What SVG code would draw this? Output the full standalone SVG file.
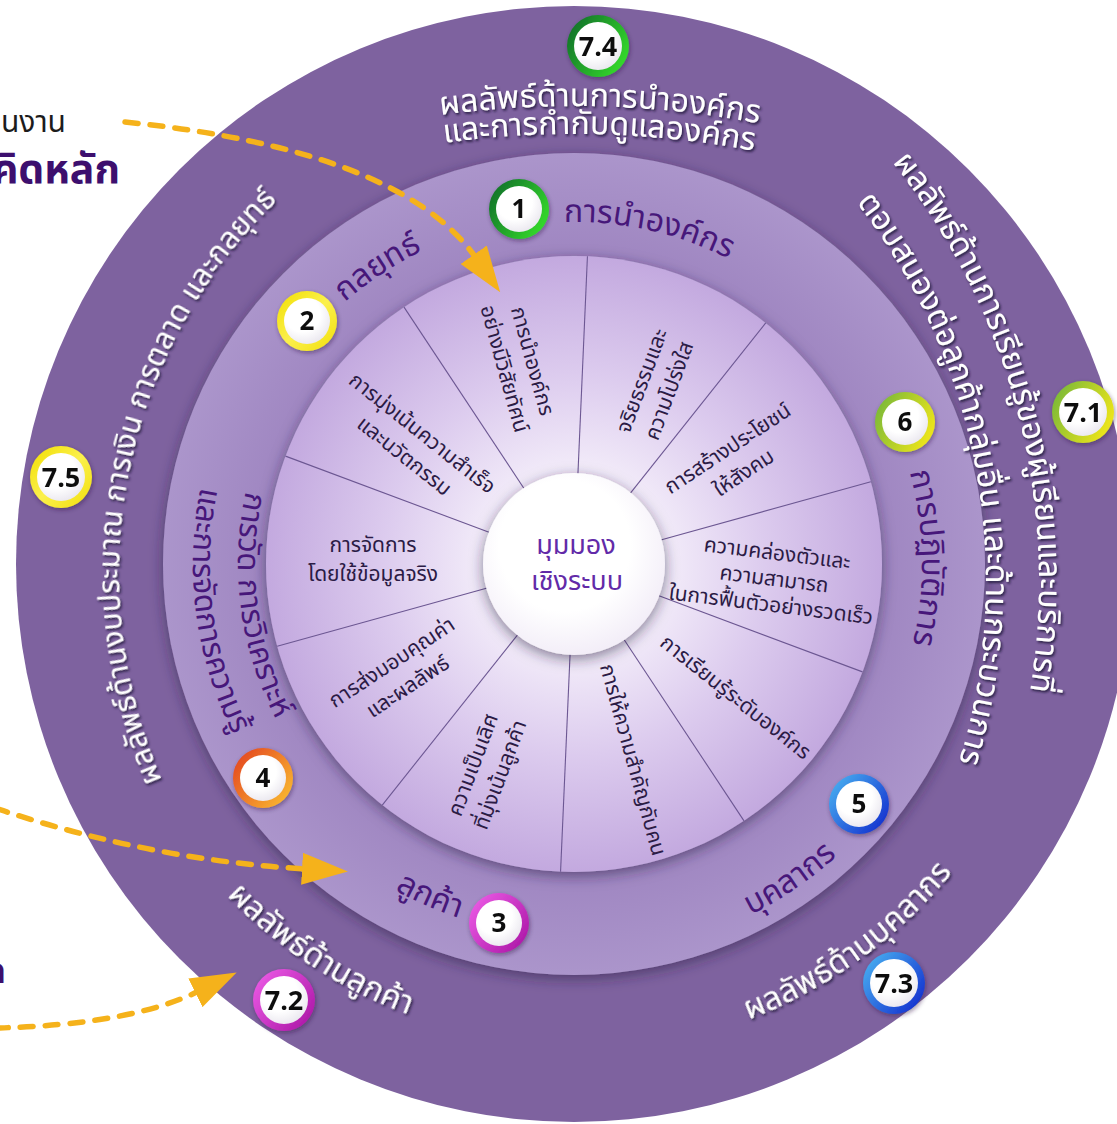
<svg xmlns="http://www.w3.org/2000/svg" width="1117" height="1124" viewBox="0 0 1117 1124">
  <defs>
    <style>
      .th { font-family: "Noto Sans", "Noto Sans Thai", "Open Sans", sans-serif; }
      .ring { font-size: 32px; fill: #47177a; }
      .outer { font-size: 32px; fill: #ffffff; filter: url(#textShadow); }
      .seg { font-size: 21px; fill: #2b1b45; text-anchor: middle; }
      .hub { font-size: 27px; fill: #622aa8; text-anchor: middle; }
      .num { font-family: "Open Sans", "DejaVu Sans", sans-serif; font-weight: 700; font-size: 26px; fill: #111111; text-anchor: middle; }
      .num7 { font-size: 27px; }
      .spoke { stroke: #6c5792; stroke-width: 1.1; }
      .dash { fill: none; stroke: #f5b21b; stroke-width: 5.5; stroke-dasharray: 13 12; stroke-linecap: round; }
    </style>

    <radialGradient id="wheelFill" cx="574" cy="564" r="308" gradientUnits="userSpaceOnUse">
      <stop offset="0.28" stop-color="#f4eefa"/>
      <stop offset="0.62" stop-color="#dccbee"/>
      <stop offset="1" stop-color="#c3a9df"/>
    </radialGradient>
    <radialGradient id="midFill" cx="574" cy="564" r="411" gradientUnits="userSpaceOnUse">
      <stop offset="0.75" stop-color="#9f86c1"/>
      <stop offset="1" stop-color="#ab95cb"/>
    </radialGradient>
    <radialGradient id="hubFill" cx="0.45" cy="0.4" r="0.6">
      <stop offset="0.6" stop-color="#ffffff"/>
      <stop offset="1" stop-color="#f3eef8"/>
    </radialGradient>

    <linearGradient id="gGreen" x1="0" y1="0" x2="1" y2="0.6">
      <stop offset="0" stop-color="#0f662b"/>
      <stop offset="1" stop-color="#33d62c"/>
    </linearGradient>
    <linearGradient id="gYellow" x1="0" y1="0" x2="1" y2="1">
      <stop offset="0" stop-color="#f1de00"/>
      <stop offset="0.5" stop-color="#fbf04c"/>
      <stop offset="1" stop-color="#f2df0a"/>
    </linearGradient>
    <linearGradient id="gLime" x1="0" y1="0" x2="1" y2="0.5">
      <stop offset="0" stop-color="#6db43c"/>
      <stop offset="1" stop-color="#e8e31c"/>
    </linearGradient>
    <linearGradient id="gOrange" x1="0" y1="0" x2="1" y2="0.8">
      <stop offset="0" stop-color="#e23c20"/>
      <stop offset="1" stop-color="#f9b830"/>
    </linearGradient>
    <linearGradient id="gBlue" x1="0" y1="0" x2="1" y2="0.8">
      <stop offset="0" stop-color="#4cbaf3"/>
      <stop offset="1" stop-color="#1430cf"/>
    </linearGradient>
    <linearGradient id="gMagenta" x1="0" y1="0" x2="1" y2="0.8">
      <stop offset="0" stop-color="#f060ea"/>
      <stop offset="1" stop-color="#ad18a8"/>
    </linearGradient>
    <radialGradient id="badgeFace" cx="0.4" cy="0.35" r="0.7">
      <stop offset="0.55" stop-color="#ffffff"/>
      <stop offset="1" stop-color="#e9e6ee"/>
    </radialGradient>

    <filter id="ringShadow" x="-10%" y="-10%" width="120%" height="120%">
      <feDropShadow dx="0" dy="4" stdDeviation="7" flood-color="#2c1a45" flood-opacity="0.55"/>
    </filter>
    <filter id="textShadow" x="-5%" y="-20%" width="110%" height="140%">
      <feDropShadow dx="1.5" dy="2" stdDeviation="1.2" flood-color="#24123a" flood-opacity="0.85"/>
    </filter>
    <filter id="badgeShadow" x="-30%" y="-30%" width="160%" height="160%">
      <feDropShadow dx="1" dy="2" stdDeviation="2" flood-color="#2a1840" flood-opacity="0.45"/>
    </filter>

    <!-- arcs centred on the origin: "top" arcs read clockwise (glyph tops outward),
         "bot" arcs read anticlockwise (glyph tops inward) -->
    <path id="top342" d="M-296.2,-171 A342,342 0 0 1 296.2,-171"/>
    <path id="top348" d="M-301.4,-174 A348,348 0 0 1 301.4,-174"/>
    <path id="top994" d="M-257.3,-960.1 A994,994 0 0 1 257.3,-960.1"/>
    <path id="top966" d="M-250,-933.1 A966,966 0 0 1 250,-933.1"/>
    <path id="top671" d="M-581.1,-335.5 A671,671 0 0 1 581.1,-335.5"/>
    <path id="top618" d="M-535.2,-309 A618,618 0 0 1 535.2,-309"/>
    <path id="top518" d="M-448.6,-259 A518,518 0 0 1 448.6,-259"/>
    <path id="bot393" d="M-340.3,196.5 A393,393 0 0 0 340.3,196.5"/>
    <path id="bot372" d="M-322.2,186 A372,372 0 0 0 322.2,186"/>
    <path id="bot336" d="M-291,168 A336,336 0 0 0 291,168"/>
    <path id="bot381" d="M-330,190.5 A381,381 0 0 0 330,190.5"/>
    <path id="bot480" d="M-415.7,240 A480,480 0 0 0 415.7,240"/>
    <path id="bot488" d="M-422.6,244 A488,488 0 0 0 422.6,244"/>

    <marker id="arrowHead" viewBox="0 0 46 32" refX="4" refY="16" markerWidth="46" markerHeight="32" markerUnits="userSpaceOnUse" orient="auto">
      <path d="M0,0 L46,16 L0,32 Z" fill="#f5b21b"/>
    </marker>
  </defs>

  <rect width="1117" height="1124" fill="#ffffff"/>

  <!-- side captions running off the left edge -->
  <g id="captions" class="th">
    <text x="66" y="132" font-size="30" fill="#1c1c1c" text-anchor="end">นงาน</text>
    <text x="120" y="183" font-size="41" font-weight="700" fill="#3d0f6e" text-anchor="end">คิดหลัก</text>
    <text x="6" y="983" font-size="36" font-weight="700" fill="#3d0f6e" text-anchor="end">ก</text>
  </g>

  <!-- concentric rings -->
  <g id="ring-results">
    <circle cx="574" cy="564" r="558" fill="#7e629f"/>
  </g>
  <g id="ring-categories">
    <circle cx="574" cy="564" r="411" fill="url(#midFill)" filter="url(#ringShadow)"/>
  </g>
  <g id="ring-values">
    <circle cx="574" cy="564" r="308" fill="url(#wheelFill)" filter="url(#ringShadow)"/>
    <g transform="translate(574 564)">
      <line class="spoke" x1="0" y1="-90" x2="0" y2="-308" transform="rotate(2.5)"/>
      <line class="spoke" x1="0" y1="-90" x2="0" y2="-308" transform="rotate(38.5)"/>
      <line class="spoke" x1="0" y1="-90" x2="0" y2="-308" transform="rotate(74.5)"/>
      <line class="spoke" x1="0" y1="-90" x2="0" y2="-308" transform="rotate(110.5)"/>
      <line class="spoke" x1="0" y1="-90" x2="0" y2="-308" transform="rotate(146.5)"/>
      <line class="spoke" x1="0" y1="-90" x2="0" y2="-308" transform="rotate(182.5)"/>
      <line class="spoke" x1="0" y1="-90" x2="0" y2="-308" transform="rotate(218.5)"/>
      <line class="spoke" x1="0" y1="-90" x2="0" y2="-308" transform="rotate(254.5)"/>
      <line class="spoke" x1="0" y1="-90" x2="0" y2="-308" transform="rotate(290.5)"/>
      <line class="spoke" x1="0" y1="-90" x2="0" y2="-308" transform="rotate(326.5)"/>
    </g>
  </g>

  <!-- core values in the wheel -->
  <g id="values" class="th">
    <text class="seg" transform="translate(518 365) rotate(74.5)"><tspan x="0" y="-8">การนำองค์กร</tspan><tspan x="0" y="21">อย่างมีวิสัยทัศน์</tspan></text>
    <text class="seg" transform="translate(656 386) rotate(-69.5)"><tspan x="0" y="-8">จริยธรรมและ</tspan><tspan x="0" y="21">ความโปร่งใส</tspan></text>
    <text class="seg" transform="translate(736 461) rotate(-33.5)"><tspan x="0" y="-8">การสร้างประโยชน์</tspan><tspan x="0" y="21">ให้สังคม</tspan></text>
    <text class="seg" transform="translate(774 580) rotate(7)"><tspan x="0" y="-20">ความคล่องตัวและ</tspan><tspan x="0" y="6">ความสามารถ</tspan><tspan x="0" y="32">ในการฟื้นตัวอย่างรวดเร็ว</tspan></text>
    <text class="seg" transform="translate(735 698) rotate(38.5)"><tspan x="0" y="6">การเรียนรู้ระดับองค์กร</tspan></text>
    <text class="seg" transform="translate(632 760) rotate(74.5)"><tspan x="0" y="6">การให้ความสำคัญกับคน</tspan></text>
    <text class="seg" transform="translate(487 770) rotate(-69.5)"><tspan x="0" y="-8">ความเป็นเลิศ</tspan><tspan x="0" y="21">ที่มุ่งเน้นลูกค้า</tspan></text>
    <text class="seg" transform="translate(400 675) rotate(-33.5)"><tspan x="0" y="-8">การส่งมอบคุณค่า</tspan><tspan x="0" y="21">และผลลัพธ์</tspan></text>
    <text class="seg" transform="translate(373 560)"><tspan x="0" y="-8">การจัดการ</tspan><tspan x="0" y="21">โดยใช้ข้อมูลจริง</tspan></text>
    <text class="seg" transform="translate(413 445) rotate(38.5)"><tspan x="0" y="-8">การมุ่งเน้นความสำเร็จ</tspan><tspan x="0" y="21">และนวัตกรรม</tspan></text>
  </g>

  <!-- hub -->
  <g id="hub" class="th">
    <circle cx="574" cy="564" r="91" fill="url(#hubFill)" filter="url(#ringShadow)"/>
    <text class="hub" x="576" y="554">มุมมอง</text>
    <text class="hub" x="577" y="590">เชิงระบบ</text>
  </g>

  <!-- category labels on the middle ring -->
  <g id="categories" class="th ring">
    <text transform="translate(574 564) rotate(12.6)"><textPath href="#top342" startOffset="50%" text-anchor="middle">การนำองค์กร</textPath></text>
    <text transform="translate(574 564) rotate(-33.5)"><textPath href="#top348" startOffset="50%" text-anchor="middle">กลยุทธ์</textPath></text>
    <text transform="translate(574 564) rotate(89)"><textPath href="#top348" startOffset="50%" text-anchor="middle">การปฏิบัติการ</textPath></text>
    <text transform="translate(574 564) rotate(-34.4)"><textPath href="#bot393" startOffset="50%" text-anchor="middle">บุคลากร</textPath></text>
    <text transform="translate(574 564) rotate(23.4)"><textPath href="#bot372" startOffset="50%" text-anchor="middle">ลูกค้า</textPath></text>
    <text transform="translate(574 564) rotate(82.5)" font-size="31"><textPath href="#bot336" startOffset="50%" text-anchor="middle">การวัด การวิเคราะห์</textPath></text>
    <text transform="translate(574 564) rotate(82.5)" font-size="31"><textPath href="#bot381" startOffset="50%" text-anchor="middle">และการจัดการความรู้</textPath></text>
  </g>

  <!-- result labels on the outer ring -->
  <g id="results" class="th outer">
    <text transform="translate(574 1100) rotate(1.5)"><textPath href="#top994" startOffset="50%" text-anchor="middle">ผลลัพธ์ด้านการนำองค์กร</textPath></text>
    <text transform="translate(574 1100) rotate(1.5)"><textPath href="#top966" startOffset="50%" text-anchor="middle">และการกำกับดูแลองค์กร</textPath></text>
    <text transform="translate(368 581) rotate(75.4)"><textPath href="#top671" startOffset="50%" text-anchor="middle">ผลลัพธ์ด้านการเรียนรู้ของผู้เรียนและบริการที่</textPath></text>
    <text transform="translate(368 581) rotate(79.6)"><textPath href="#top618" startOffset="50%" text-anchor="middle">ตอบสนองต่อลูกค้ากลุ่มอื่น และด้านกระบวนการ</textPath></text>
    <text transform="translate(637 573) rotate(281.25)" font-size="30"><textPath href="#top518" startOffset="50%" text-anchor="middle">ผลลัพธ์ด้านงบประมาณ การเงิน การตลาด และกลยุทธ์</textPath></text>
    <text transform="translate(574 564) rotate(33.25)"><textPath href="#bot480" startOffset="50%" text-anchor="middle">ผลลัพธ์ด้านลูกค้า</textPath></text>
    <text transform="translate(574 564) rotate(-35.9)"><textPath href="#bot488" startOffset="50%" text-anchor="middle">ผลลัพธ์ด้านบุคลากร</textPath></text>
  </g>

  <!-- numbered badges -->
  <g id="badge-1" transform="translate(519 209)" filter="url(#badgeShadow)">
    <circle r="30" fill="url(#gGreen)"/><circle r="23" fill="url(#badgeFace)"/><text class="num" y="9">1</text>
  </g>
  <g id="badge-2" transform="translate(307 321)" filter="url(#badgeShadow)">
    <circle r="30" fill="url(#gYellow)"/><circle r="23" fill="url(#badgeFace)"/><text class="num" y="9">2</text>
  </g>
  <g id="badge-3" transform="translate(499 923)" filter="url(#badgeShadow)">
    <circle r="30" fill="url(#gMagenta)"/><circle r="23" fill="url(#badgeFace)"/><text class="num" y="9">3</text>
  </g>
  <g id="badge-4" transform="translate(263 778)" filter="url(#badgeShadow)">
    <circle r="30" fill="url(#gOrange)"/><circle r="23" fill="url(#badgeFace)"/><text class="num" y="9">4</text>
  </g>
  <g id="badge-5" transform="translate(859 804)" filter="url(#badgeShadow)">
    <circle r="30" fill="url(#gBlue)"/><circle r="23" fill="url(#badgeFace)"/><text class="num" y="9">5</text>
  </g>
  <g id="badge-6" transform="translate(905 422)" filter="url(#badgeShadow)">
    <circle r="30" fill="url(#gLime)"/><circle r="23" fill="url(#badgeFace)"/><text class="num" y="9">6</text>
  </g>
  <g id="badge-7-1" transform="translate(1083 412)" filter="url(#badgeShadow)">
    <circle r="31" fill="url(#gLime)"/><circle r="24" fill="url(#badgeFace)"/><text class="num num7" y="10">7.1</text>
  </g>
  <g id="badge-7-2" transform="translate(284 1000)" filter="url(#badgeShadow)">
    <circle r="31" fill="url(#gMagenta)"/><circle r="24" fill="url(#badgeFace)"/><text class="num num7" y="10">7.2</text>
  </g>
  <g id="badge-7-3" transform="translate(894 983)" filter="url(#badgeShadow)">
    <circle r="31" fill="url(#gBlue)"/><circle r="24" fill="url(#badgeFace)"/><text class="num num7" y="10">7.3</text>
  </g>
  <g id="badge-7-4" transform="translate(598 46)" filter="url(#badgeShadow)">
    <circle r="31" fill="url(#gGreen)"/><circle r="24" fill="url(#badgeFace)"/><text class="num num7" y="10">7.4</text>
  </g>
  <g id="badge-7-5" transform="translate(61 477)" filter="url(#badgeShadow)">
    <circle r="31" fill="url(#gYellow)"/><circle r="24" fill="url(#badgeFace)"/><text class="num num7" y="10">7.5</text>
  </g>

  <!-- dashed pointers -->
  <g id="connectors">
    <path class="dash" d="M125,122 Q400,150 476,258" marker-end="url(#arrowHead)"/>
    <path class="dash" d="M-5,808 Q150,860 306,869" marker-end="url(#arrowHead)"/>
    <path class="dash" d="M-5,1028 Q130,1025 199,991" marker-end="url(#arrowHead)"/>
  </g>
</svg>
